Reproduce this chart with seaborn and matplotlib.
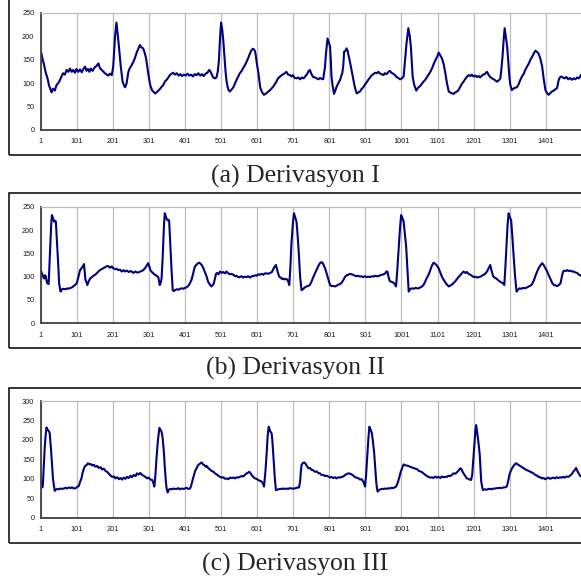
import pandas as pd
import seaborn as sns
import matplotlib.pyplot as plt
from matplotlib.patches import Rectangle

# Derivasyon I
lead1_x = [1, 5, 10, 15, 20, 24, 28, 31, 35, 40, 45, 50, 54, 58, 63, 68, 73, 78, 82, 87, 91, 96, 100, 105, 110,
           115, 120, 124, 128, 132, 136, 140, 145, 150, 155, 161, 165, 170, 175, 179, 184, 188, 193, 198, 202,
           207, 211, 216, 220, 223, 228, 232, 235, 239, 244, 248, 253, 258, 262, 267, 272, 276, 280, 285, 289,
           293, 299, 303, 306, 310, 313, 318, 322, 326, 331, 336, 341, 345, 350, 355, 359, 364, 368, 373, 378,
           383, 388, 393, 398, 403, 408, 413, 418, 423, 428, 433, 438, 443, 448, 453, 458, 463, 468, 472, 479,
           484, 488, 492, 495, 498, 501, 504, 507, 510, 513, 516, 519, 522, 525, 530, 535, 540, 544, 548, 553,
           558, 563, 567, 572, 576, 580, 585, 589, 592, 595, 597, 600, 604, 607, 610, 615, 620, 626, 632, 638,
           645, 652, 659, 666, 673, 678, 682, 687, 692, 696, 700, 705, 710, 715, 720, 725, 730, 735, 740, 744,
           747, 751, 756, 761, 766, 771, 775, 780, 784, 789, 792, 796, 800, 803, 805, 807, 810, 814, 818, 821,
           826, 831, 834, 837, 840, 842, 845, 849, 852, 854, 857, 860, 864, 868, 872, 877, 881, 886, 890, 895,
           900, 905, 909, 914, 918, 923, 928, 932, 937, 942, 946, 951, 955, 960, 965, 969, 973, 978, 983, 987,
           992, 997, 1002, 1007, 1011, 1015, 1020, 1024, 1027, 1030, 1032, 1036, 1042, 1047, 1053, 1058, 1062,
           1067, 1072, 1076, 1081, 1086, 1090, 1095, 1100, 1104, 1108, 1113, 1118, 1122, 1127, 1132, 1138, 1145,
           1150, 1155, 1159, 1164, 1168, 1173, 1178, 1182, 1187, 1192, 1196, 1201, 1206, 1210, 1215, 1219, 1224,
           1228, 1233, 1238, 1242, 1247, 1252, 1257, 1262, 1266, 1271, 1275, 1278, 1281, 1284, 1287, 1290, 1294,
           1297, 1300, 1303, 1307, 1311, 1316, 1321, 1326, 1330, 1335, 1340, 1344, 1349, 1354, 1358, 1363, 1368,
           1372, 1376, 1381, 1386, 1391, 1395, 1400, 1405, 1409, 1414, 1418, 1423, 1428, 1432, 1435, 1437, 1440,
           1443, 1448, 1453, 1458, 1463, 1468, 1473, 1478, 1483, 1488, 1493, 1497, 1500]
lead1_y = [170, 155, 140, 122, 110, 95, 87, 80, 88, 84, 96, 100, 106, 113, 121, 118, 128, 124, 131, 124, 128, 122,
           130, 124, 129, 123, 131, 135, 126, 130, 124, 131, 126, 133, 136, 142, 132, 128, 124, 121, 118, 116,
           120, 117, 135, 199, 229, 192, 160, 135, 103, 95, 91, 99, 124, 132, 138, 146, 153, 165, 174, 181, 176,
           174, 165, 153, 121, 102, 92, 84, 82, 78, 80, 83, 87, 92, 96, 103, 107, 112, 117, 120, 122, 118, 121,
           116, 119, 115, 118, 116, 120, 116, 118, 114, 119, 117, 121, 116, 119, 115, 120, 122, 128, 124, 112,
           110, 112, 125, 149, 195, 229, 215, 192, 160, 128, 105, 92, 85, 82, 86, 91, 100, 107, 113, 121, 126,
           133, 138, 146, 153, 161, 170, 173, 172, 168, 160, 142, 124, 105, 89, 80, 75, 78, 82, 86, 92, 100, 110,
           115, 119, 121, 124, 118, 117, 114, 117, 111, 110, 112, 108, 112, 110, 115, 120, 126, 128, 120, 113,
           112, 110, 108, 111, 109, 108, 135, 165, 195, 185, 178, 150, 114, 95, 77, 85, 92, 100, 107, 115, 121,
           140, 167, 168, 174, 168, 160, 150, 138, 122, 107, 90, 78, 80, 82, 87, 91, 97, 102, 107, 112, 116, 119,
           122, 121, 124, 120, 119, 117, 121, 119, 124, 126, 122, 120, 117, 113, 111, 108, 110, 114, 149, 185,
           217, 200, 178, 140, 114, 97, 84, 90, 94, 99, 103, 107, 113, 118, 124, 132, 140, 149, 156, 165, 160,
           153, 140, 124, 100, 82, 79, 77, 80, 82, 85, 92, 98, 103, 109, 113, 117, 115, 118, 114, 116, 113, 115,
           112, 116, 118, 120, 124, 118, 113, 110, 108, 105, 103, 106, 110, 130, 156, 190, 217, 200, 178, 145,
           114, 95, 85, 88, 90, 91, 98, 106, 114, 120, 128, 135, 142, 149, 156, 163, 169, 167, 163, 152, 135,
           110, 85, 78, 75, 79, 82, 84, 87, 89, 100, 107, 112, 114, 112, 110, 113, 108, 111, 107, 110, 108, 112,
           110, 115, 119]

# Derivasyon II
lead2_x = [1, 4, 6, 8, 10, 13, 15, 17, 19, 23, 25, 27, 30, 32, 35, 38, 41, 43, 45, 47, 50, 52, 56, 60, 64, 70,
           75, 78, 84, 88, 91, 96, 101, 105, 110, 114, 117, 121, 123, 125, 128, 130, 134, 138, 143, 147, 152,
           157, 161, 165, 170, 174, 179, 183, 188, 193, 198, 202, 207, 211, 216, 221, 226, 231, 235, 240, 245,
           250, 253, 258, 263, 268, 272, 277, 281, 285, 290, 295, 299, 302, 305, 308, 313, 318, 322, 327, 331,
           334, 336, 339, 341, 343, 345, 348, 352, 355, 357, 359, 361, 364, 367, 370, 373, 378, 383, 387, 392,
           396, 401, 405, 410, 414, 419, 423, 428, 432, 436, 440, 444, 448, 452, 456, 461, 465, 470, 474, 478,
           481, 484, 487, 490, 494, 498, 503, 507, 512, 516, 521, 526, 530, 535, 540, 544, 548, 553, 558, 562,
           567, 572, 576, 581, 586, 590, 595, 599, 604, 608, 613, 618, 622, 627, 632, 636, 641, 645, 649, 653,
           657, 662, 666, 670, 673, 677, 681, 684, 687, 690, 693, 696, 700, 703, 706, 710, 713, 717, 720, 724,
           728, 733, 738, 742, 747, 752, 756, 761, 766, 770, 775, 779, 782, 786, 789, 792, 797, 803, 807, 812,
           817, 822, 826, 831, 836, 840, 844, 849, 853, 858, 862, 867, 872, 877, 881, 886, 890, 895, 900, 904,
           909, 914, 918, 923, 928, 932, 937, 942, 946, 951, 956, 959, 962, 965, 968, 973, 979, 983, 986, 989,
           993, 997, 1000, 1004, 1007, 1010, 1014, 1018, 1021, 1026, 1030, 1035, 1040, 1044, 1049, 1053, 1058,
           1062, 1067, 1071, 1076, 1081, 1085, 1090, 1094, 1099, 1104, 1109, 1113, 1118, 1123, 1127, 1132, 1136,
           1141, 1145, 1150, 1155, 1159, 1164, 1168, 1173, 1178, 1182, 1187, 1192, 1196, 1201, 1206, 1210, 1215,
           1220, 1224, 1229, 1233, 1237, 1240, 1244, 1247, 1250, 1255, 1259, 1264, 1268, 1273, 1277, 1280, 1283,
           1286, 1289, 1292, 1295, 1298, 1301, 1305, 1308, 1312, 1316, 1320, 1324, 1328, 1333, 1338, 1343, 1349,
           1354, 1359, 1363, 1368, 1372, 1377, 1381, 1386, 1391, 1395, 1400, 1405, 1409, 1414, 1419, 1424, 1428,
           1433, 1437, 1442, 1445, 1449, 1453, 1457, 1460, 1465, 1470, 1474, 1479, 1483, 1488, 1493, 1497, 1500]
lead2_y = [114, 108, 104, 100, 96, 103, 101, 92, 86, 84, 120, 157, 210, 232, 226, 218, 220, 218, 190, 164, 120, 86,
           68, 73, 74, 73, 75, 74, 76, 77, 79, 82, 86, 98, 114, 118, 121, 127, 110, 93, 88, 82, 90, 96, 99, 102,
           104, 108, 111, 114, 116, 118, 120, 122, 123, 119, 122, 118, 116, 117, 114, 115, 111, 114, 111, 113,
           110, 112, 111, 108, 111, 109, 109, 111, 112, 114, 118, 124, 129, 122, 114, 111, 107, 104, 102, 99, 82,
           88, 96, 140, 179, 215, 236, 228, 221, 222, 220, 190, 157, 110, 71, 69, 71, 73, 72, 74, 75, 74, 76, 77,
           80, 85, 93, 105, 121, 125, 128, 130, 128, 124, 118, 110, 100, 89, 83, 79, 82, 86, 96, 106, 108, 105,
           111, 108, 110, 107, 111, 107, 105, 106, 104, 101, 102, 99, 99, 101, 98, 100, 99, 101, 98, 101, 101,
           103, 102, 105, 104, 106, 104, 107, 107, 106, 108, 109, 115, 121, 125, 113, 100, 98, 95, 96, 94, 95,
           94, 90, 82, 120, 171, 215, 236, 228, 218, 190, 143, 100, 71, 73, 77, 79, 80, 82, 90, 98, 107, 115, 122,
           129, 131, 130, 124, 118, 111, 98, 82, 80, 80, 79, 81, 83, 84, 88, 93, 99, 103, 104, 106, 105, 104, 102,
           101, 102, 100, 101, 99, 101, 99, 100, 99, 101, 100, 102, 101, 101, 103, 104, 105, 107, 111, 111, 100,
           91, 89, 87, 83, 79, 110, 157, 205, 232, 225, 218, 195, 164, 110, 68, 74, 75, 74, 76, 75, 75, 77, 79,
           82, 90, 97, 104, 114, 123, 130, 128, 124, 118, 108, 100, 93, 87, 83, 79, 81, 83, 86, 90, 95, 99, 103,
           107, 111, 108, 110, 106, 104, 102, 99, 100, 98, 99, 100, 102, 104, 106, 110, 114, 120, 125, 115, 101,
           98, 96, 93, 90, 88, 87, 85, 82, 120, 164, 210, 236, 228, 221, 190, 143, 100, 68, 72, 75, 74, 76, 75,
           77, 79, 81, 84, 92, 101, 111, 118, 124, 129, 125, 118, 111, 103, 95, 86, 82, 81, 80, 82, 86, 98, 111,
           113, 112, 114, 112, 113, 111, 111, 109, 108, 104, 103, 101]

# Derivasyon III
lead3_x = [1, 3, 4, 6, 7, 9, 12, 15, 17, 19, 21, 24, 26, 28, 30, 33, 35, 38, 40, 43, 47, 52, 56, 61, 65, 70, 74,
           79, 84, 88, 93, 98, 102, 107, 110, 114, 117, 121, 124, 128, 132, 136, 140, 144, 148, 153, 157, 162,
           167, 171, 176, 181, 185, 190, 195, 199, 204, 208, 213, 218, 222, 227, 231, 236, 240, 245, 250, 254,
           259, 264, 268, 272, 277, 282, 286, 291, 296, 300, 305, 310, 313, 316, 319, 322, 326, 330, 333, 336,
           339, 342, 345, 348, 350, 353, 356, 360, 364, 369, 373, 378, 383, 387, 392, 396, 401, 405, 410, 415,
           418, 422, 426, 429, 433, 437, 441, 444, 447, 451, 455, 458, 461, 465, 470, 475, 480, 484, 489, 493,
           498, 503, 507, 512, 516, 521, 526, 530, 535, 539, 544, 548, 553, 558, 562, 567, 572, 576, 579, 583,
           587, 590, 595, 599, 604, 608, 613, 617, 620, 624, 627, 630, 633, 635, 638, 641, 643, 645, 647, 650,
           653, 657, 660, 664, 669, 673, 678, 682, 687, 691, 696, 701, 705, 710, 714, 717, 720, 722, 724, 727,
           731, 734, 738, 743, 747, 752, 756, 761, 766, 770, 775, 779, 784, 789, 793, 798, 803, 807, 812, 817,
           821, 826, 831, 835, 840, 845, 849, 854, 859, 863, 868, 872, 877, 882, 886, 891, 895, 898, 900, 903,
           906, 909, 912, 914, 917, 919, 922, 925, 928, 931, 933, 935, 940, 946, 951, 955, 960, 965, 969, 974,
           978, 982, 986, 990, 993, 996, 999, 1003, 1007, 1011, 1016, 1020, 1025, 1030, 1034, 1039, 1044, 1048,
           1053, 1058, 1062, 1067, 1072, 1076, 1081, 1086, 1090, 1095, 1099, 1104, 1109, 1113, 1118, 1122, 1127,
           1131, 1136, 1141, 1145, 1150, 1155, 1160, 1164, 1167, 1170, 1173, 1177, 1182, 1186, 1190, 1194, 1197,
           1199, 1202, 1204, 1206, 1208, 1210, 1213, 1216, 1218, 1220, 1222, 1225, 1227, 1232, 1237, 1242, 1247,
           1252, 1256, 1261, 1265, 1270, 1274, 1279, 1284, 1288, 1293, 1297, 1300, 1303, 1307, 1310, 1314, 1319,
           1323, 1328, 1332, 1336, 1340, 1345, 1349, 1354, 1358, 1363, 1368, 1372, 1377, 1381, 1386, 1390, 1395,
           1399, 1404, 1408, 1413, 1418, 1422, 1427, 1431, 1436, 1441, 1445, 1450, 1454, 1459, 1464, 1468, 1473,
           1477, 1481, 1485, 1488, 1492, 1496, 1500]
lead3_y = [97, 85, 80, 78, 84, 120, 178, 215, 232, 228, 225, 222, 217, 195, 170, 130, 101, 80, 69, 72, 74, 73, 75,
           74, 75, 77, 75, 78, 76, 78, 75, 76, 79, 82, 92, 101, 115, 127, 133, 135, 140, 137, 138, 134, 136, 131,
           133, 128, 130, 124, 126, 120, 118, 113, 108, 105, 106, 101, 104, 99, 102, 98, 103, 100, 105, 102, 108,
           104, 110, 107, 114, 111, 115, 110, 108, 105, 101, 103, 98, 97, 90, 80, 110, 153, 200, 231, 226, 221,
           205, 174, 130, 93, 75, 65, 72, 74, 73, 75, 74, 74, 76, 73, 75, 74, 75, 77, 74, 75, 82, 97, 110, 120,
           127, 135, 138, 140, 142, 137, 135, 131, 133, 128, 124, 120, 118, 114, 111, 108, 105, 103, 104, 100,
           101, 99, 103, 102, 103, 101, 104, 103, 105, 107, 106, 110, 114, 116, 118, 114, 108, 105, 101, 100, 97,
           95, 93, 88, 80, 120, 161, 210, 234, 228, 221, 217, 200, 170, 144, 100, 71, 72, 73, 74, 74, 75, 74, 75,
           74, 76, 75, 75, 75, 77, 77, 78, 93, 118, 135, 140, 142, 140, 134, 127, 128, 123, 122, 118, 119, 115,
           114, 110, 110, 107, 108, 106, 103, 105, 102, 104, 101, 104, 103, 105, 106, 110, 112, 114, 113, 111,
           108, 104, 103, 101, 98, 99, 93, 86, 80, 110, 153, 200, 234, 230, 222, 217, 195, 170, 130, 93, 75, 67,
           72, 74, 74, 75, 74, 76, 75, 77, 76, 78, 80, 88, 97, 108, 118, 128, 137, 135, 134, 133, 131, 129, 128,
           126, 125, 121, 119, 117, 114, 110, 107, 105, 103, 104, 102, 106, 103, 105, 102, 106, 104, 105, 105,
           108, 107, 110, 114, 113, 117, 122, 127, 125, 119, 114, 108, 101, 100, 98, 97, 110, 135, 170, 195, 225,
           238, 225, 204, 180, 161, 125, 93, 78, 71, 73, 72, 74, 74, 73, 75, 75, 76, 76, 77, 76, 78, 78, 80, 95,
           110, 118, 126, 131, 136, 140, 137, 134, 132, 129, 127, 124, 122, 120, 118, 116, 113, 110, 108, 105,
           104, 101, 102, 99, 101, 103, 100, 102, 103, 101, 104, 102, 104, 103, 105, 103, 106, 105, 108, 112, 118,
           122, 128, 121, 114, 108, 105]

captions = ["(a) Derivasyon I", "(b) Derivasyon II", "(c) Derivasyon III"]
x_ticks = list(range(1, 1402, 100))
y_ticks_low = [0, 50, 100, 150, 200, 250]
y_ticks_high = [0, 50, 100, 150, 200, 250, 300]

sns.set_style("white")
plt.rcParams['font.family'] = ['Liberation Sans', 'DejaVu Sans']

W, H = 581, 582
fig = plt.figure(figsize=(W / 100, H / 100), dpi=100)

# pixel layout: (frame top, frame bottom, axes top, axes bottom, caption centre)
layout = [
    (-3, 155, 12.7, 130.0, 176.0),
    (193, 348, 206.7, 323.3, 368.0),
    (388, 543, 401.0, 517.7, 564.5),
]
panels = [
    (lead1_x, lead1_y, y_ticks_low),
    (lead2_x, lead2_y, y_ticks_low),
    (lead3_x, lead3_y, y_ticks_high),
]

ax_left = 40.7
for (fr_top, fr_bot, a_top, a_bot, cap_y), (xs, ys, yt), cap in zip(layout, panels, captions):
    # chart frame
    fig.patches.append(Rectangle((9 / W, 1 - fr_bot / H), 600 / W, (fr_bot - fr_top) / H,
                                 transform=fig.transFigure, fill=False, edgecolor='black', lw=1.1))
    ax = fig.add_axes([ax_left / W, 1 - a_bot / H, (W - ax_left + 0.5) / W, (a_bot - a_top) / H])
    df = pd.DataFrame({'sample': xs, 'value': ys})
    sns.lineplot(data=df, x='sample', y='value', ax=ax, color='#000080', lw=1.5)
    ax.set_xlim(1, 1500)
    ax.set_ylim(yt[0], yt[-1])
    ax.set_xticks(x_ticks)
    ax.set_yticks(yt)
    ax.set_xlabel('')
    ax.set_ylabel('')
    ax.grid(axis='x', color='#bdbdbd', lw=0.9)
    ax.grid(axis='y', visible=False)
    for s in ['left', 'bottom']:
        ax.spines[s].set_color('#404040')
        ax.spines[s].set_linewidth(1.3)
    ax.spines['top'].set_color('#bdbdbd')
    ax.spines['top'].set_linewidth(0.9)
    ax.spines['right'].set_visible(False)
    ax.tick_params(axis='both', direction='out', length=2.5, width=0.8, color='#404040',
                   labelsize=5.3, labelcolor='#1a1a1a')
    ax.tick_params(axis='x', pad=3.5)
    ax.tick_params(axis='y', pad=2)
    fig.text(295 / W, 1 - cap_y / H, cap, ha='center', va='center',
             family='Liberation Serif', fontsize=18.5)

fig.savefig('out.png', dpi=100)
